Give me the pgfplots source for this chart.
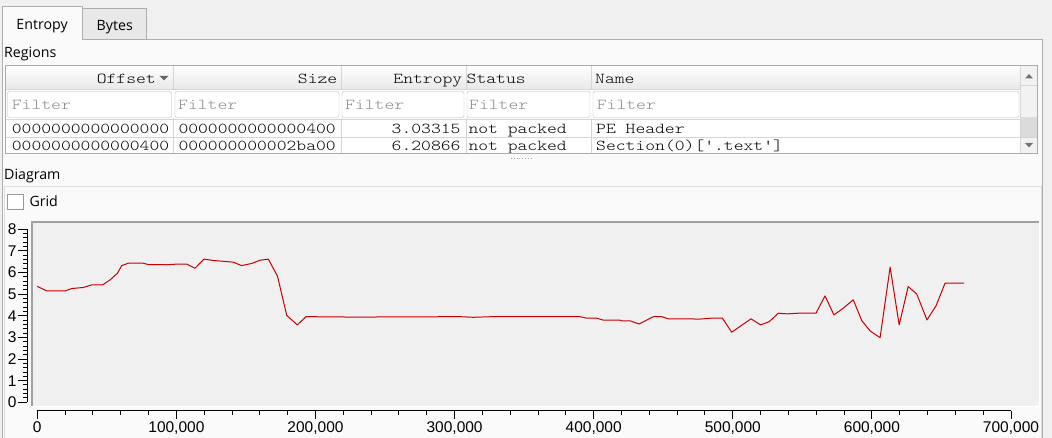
\documentclass[border=0pt]{standalone}
\usepackage{pgfplots}
\pgfplotsset{compat=1.18}
\usepackage{fontspec}
\newfontfamily\uifont{Open Sans}
\newfontfamily\monofont[FakeStretch=1.24]{Latin Modern Mono Light}
\newfontfamily\tickfont{Liberation Sans}
\definecolor{winbg}{RGB}{240,240,240}
\definecolor{panel}{RGB}{250,250,250}
\definecolor{tabborder}{RGB}{173,173,173}
\definecolor{bytestab}{RGB}{232,232,232}
\definecolor{tblborder}{RGB}{172,172,172}
\definecolor{hdrbot}{RGB}{232,232,232}
\definecolor{sepc}{RGB}{213,213,213}
\definecolor{filterbd}{RGB}{184,184,184}
\definecolor{filtertx}{RGB}{140,140,140}
\definecolor{canvas}{RGB}{240,240,240}
\definecolor{framec}{RGB}{160,160,160}
\definecolor{grpbd}{RGB}{220,220,220}
\definecolor{curve}{RGB}{200,0,0}
\newcommand\ui{\uifont\fontsize{14.2}{16}\selectfont}
\newcommand\mono{\monofont\fontsize{15.1}{17}\selectfont}
\pgfplotstableread{
x y
0 5.36
6760 5.15
19900 5.15
24700 5.26
33100 5.31
39100 5.43
47000 5.43
52300 5.66
57600 5.97
60700 6.32
65400 6.43
76200 6.43
79800 6.37
93000 6.36
100200 6.39
107400 6.39
113400 6.20
119800 6.62
126500 6.56
140900 6.48
146900 6.32
154100 6.42
160100 6.57
166100 6.62
172700 5.83
179300 4.02
186900 3.58
193200 3.96
212800 3.95
227200 3.94
303900 3.96
313500 3.93
326700 3.96
390100 3.96
395000 3.89
402200 3.89
406900 3.80
418900 3.80
420100 3.77
426100 3.77
432600 3.62
442900 3.96
448900 3.96
453600 3.86
476400 3.85
484800 3.89
492500 3.89
499200 3.24
513100 3.86
520000 3.58
526200 3.73
532700 4.12
539200 4.09
547100 4.12
559800 4.12
566300 4.92
572700 4.04
579400 4.35
586600 4.74
592700 3.78
598700 3.30
605900 2.99
613100 6.25
619600 3.58
626100 5.35
632200 5.01
639600 3.81
646100 4.46
652600 5.51
666300 5.51
}\entropydata
\begin{document}
\begin{tikzpicture}
\begin{scope}[x=1pt,y=-1pt,shift={(0pt,438pt)}]
\useasboundingbox (0,0) rectangle (1052,438);
\fill[winbg] (0,0) rectangle (1052,438);
% panel
\fill[panel] (1.7,39.3) rectangle (1042,445);
\draw[tabborder] (1.7,445) -- (1.7,39.3) -- (1042,39.3) -- (1042,445);
% tabs
\fill[bytestab] (81.7,8.3) rectangle (145.7,39.3);
\draw[tabborder] (81.7,39.3) -- (81.7,8.3) -- (145.7,8.3) -- (145.7,39.3);
\fill[panel] (1.7,6) rectangle (81.7,39.8);
\draw[tabborder] (1.7,40) -- (1.7,6) -- (81.7,6) -- (81.7,39.3);
\node[anchor=base west,inner sep=0] at (16.2,30) {\ui Entropy};
\node[anchor=base west,inner sep=0] at (96.5,30.7) {\ui Bytes};
% regions
\node[anchor=base west,inner sep=0] at (4,57.3) {\ui Regions};
\fill[white] (5.5,65.7) rectangle (1037,153.3);
\shade[top color=white,bottom color=hdrbot] (6,66.2) rectangle (1020,89);
\draw[sepc] (6,89) -- (1020,89);
\foreach \c in {173.5,340.8,465.8,591.5}{\draw[sepc] (\c,66.2) -- (\c,89);}
% filter boxes
\foreach \a/\b in {7.5/171.5,175/339,342/464,467/590,593/1019}{
  \draw[filterbd,fill=white,rounded corners=2pt] (\a,91.5) rectangle (\b,117.5);}
\foreach \a in {11.7,178,345,469,596.7}{
  \node[anchor=base west,inner sep=0,text=filtertx] at (\a,110) {\mono Filter};}
% rows
\draw[sepc] (6,119) -- (1020,119);
\draw[sepc] (6,136.8) -- (1020,136.8);
\foreach \c in {173.5,340.8,465.8,591.5}{\draw[sepc] (\c,118.5) -- (\c,153);}
\node[anchor=base east,inner sep=0] at (156,83.3) {\mono Offset};
\fill[black!60] (159.5,76) -- (168.5,76) -- (164,80.5) -- cycle;
\node[anchor=base east,inner sep=0] at (337.5,83.3) {\mono Size};
\node[anchor=base east,inner sep=0] at (462.5,83.3) {\mono Entropy};
\node[anchor=base west,inner sep=0] at (466.5,83.3) {\mono Status};
\node[anchor=base west,inner sep=0] at (595,83.3) {\mono Name};
\node[anchor=base west,inner sep=0] at (11.7,133.3) {\mono 0000000000000000};
\node[anchor=base west,inner sep=0] at (178.3,133.3) {\mono 0000000000000400};
\node[anchor=base east,inner sep=0] at (460.7,133.3) {\mono 3.03315};
\node[anchor=base west,inner sep=0] at (468.3,133.3) {\mono not packed};
\node[anchor=base west,inner sep=0] at (596,133.3) {\mono PE Header};
\node[anchor=base west,inner sep=0] at (11.7,150.9) {\mono 0000000000000400};
\node[anchor=base west,inner sep=0] at (178.3,150.9) {\mono 000000000002ba00};
\node[anchor=base east,inner sep=0] at (460.7,150.9) {\mono 6.20866};
\node[anchor=base west,inner sep=0] at (468.3,150.9) {\mono not packed};
\node[anchor=base west,inner sep=0] at (596,150.9) {\mono Section(0)['.text']};
% scrollbar
\fill[white!95!black] (1020,66.2) rectangle (1037,153);
\fill[white!86!black] (1020,117) rectangle (1037,137);
\draw[sepc] (1020,66.2) -- (1020,153);
\draw[sepc] (1020,85) -- (1037,85);
\draw[sepc] (1020,137) -- (1037,137);
\fill[black!55] (1025,78.5) -- (1033,78.5) -- (1029,74) -- cycle;
\fill[black!55] (1025,143) -- (1033,143) -- (1029,147.5) -- cycle;
\draw[tblborder] (5.5,65.7) rectangle (1037,153.3);
\draw[black!35,dotted,line width=0.8pt] (511,158.5) -- (531,158.5);
% diagram
\node[anchor=base west,inner sep=0] at (4,180) {\ui Diagram};
\fill[white!98!black] (4.5,186.5) rectangle (1041,445);
\draw[grpbd] (4.5,445) -- (4.5,186.5) -- (1041,186.5) -- (1041,445);
\draw[black!40,fill=white] (7.3,194.3) rectangle (22.7,209);
\node[anchor=base west,inner sep=0] at (29.3,206.7) {\ui Grid};
% canvas
\fill[canvas] (31,221) rectangle (1039,406);
\draw[white] (31,406) -- (1039,406) -- (1039,221);
\draw[framec,line width=1.6pt] (31.8,406) -- (31.8,221.8) -- (1039,221.8);
\end{scope}
% data axis
\begin{axis}[at={(31pt,32pt)},anchor=south west,scale only axis,
  width=1008pt,height=185pt,xmin=-4530,xmax=720100,ymin=-0.171,ymax=8.384,
  hide axis,clip=true]
\addplot[curve,line width=1pt,line join=round] table[x=x,y=y] {\entropydata};
\end{axis}
% x axis
\begin{axis}[at={(37.3pt,27.3pt)},anchor=south west,scale only axis,
  width=973.7pt,height=1pt,xmin=0,xmax=700000,ymin=0,ymax=1,
  axis x line*=bottom,hide y axis,
  xtick distance=100000,minor x tick num=4,tick align=outside,
  major tick length=8pt,minor tick length=4pt,
  axis line style={black,line width=1pt},
  every tick/.style={black,line width=1pt},
  scaled x ticks=false,
  /pgf/number format/.cd,fixed,1000 sep={,},assume math mode=true,
  /pgfplots/.cd,
  xticklabel style={font=\tickfont\fontsize{15.5}{16}\selectfont,inner sep=2.5pt}]
\addplot[draw=none] coordinates {(0,0)};
\end{axis}
% y axis
\begin{axis}[at={(27.3pt,35.7pt)},anchor=south west,scale only axis,
  width=1pt,height=173pt,xmin=0,xmax=1,ymin=0,ymax=8,
  axis y line*=left,hide x axis,
  ytick distance=1,minor y tick num=4,tick align=outside,
  major tick length=9pt,minor tick length=4.5pt,
  axis line style={black,line width=1pt},
  every tick/.style={black,line width=1pt},
  /pgf/number format/assume math mode=true,
  yticklabel style={font=\tickfont\fontsize{15.5}{16}\selectfont,inner sep=1.5pt}]
\addplot[draw=none] coordinates {(0,0)};
\end{axis}
\end{tikzpicture}
\end{document}
